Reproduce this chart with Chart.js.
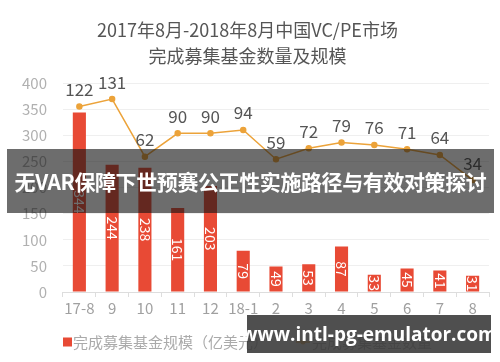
<!DOCTYPE html>
<html>
<head>
<meta charset="utf-8">
<script src="https://cdn.jsdelivr.net/npm/chart.js@4/dist/chart.umd.min.js"></script>
<style>
  body { margin: 0; background: #fff; }
  #wrap { position: relative; width: 500px; height: 362px; }
  #banner {
    position: absolute; left: 7px; top: 149px; width: 487px; height: 64px;
    background: rgba(20, 20, 20, 0.62); color: #fff;
    font: bold 21px "Noto Sans CJK SC", sans-serif; letter-spacing: -0.4px;
    display: flex; align-items: center; justify-content: center; white-space: nowrap;
  }
  #mark {
    position: absolute; left: 247px; top: 315px; width: 244px; height: 38px;
    background: rgba(55, 55, 55, 0.88); color: #fff;
    font: bold 19px "Open Sans", "DejaVu Sans", sans-serif;
    display: flex; align-items: center; justify-content: center; white-space: nowrap;
  }
</style>
</head>
<body>
<div id="wrap">
  <canvas id="chart" width="500" height="362"></canvas>
  <div id="banner">无VAR保障下世预赛公正性实施路径与有效对策探讨</div>
  <div id="mark">www.intl-pg-emulator.com</div>
</div>
<script>
// categorie (mesi)
const months = ["17-8", "9", "10", "11", "12", "18-1", "2", "3", "4", "5", "6", "7", "8"];
// scala fondi (亿美元)
const fundSize = [344, 244, 238, 161, 203, 79, 49, 53, 87, 33, 45, 41, 31];
// numero fondi
const fundCount = [122, 131, 62, 90, 90, 94, 59, 72, 79, 76, 71, 64, 34];
const yTicks = [0, 50, 100, 150, 200, 250, 300, 350, 400];

const cjk = '"Noto Sans CJK SC", sans-serif';
const barColor = "#e84a35";
const lineColor = "#eca33a";

// etichette sopra i punti e dentro le barre
const valueLabels = {
  id: "valueLabels",
  afterDatasetsDraw(chart) {
    const ctx = chart.ctx;
    ctx.save();
    // barre: testo ruotato, bianco
    chart.getDatasetMeta(0).data.forEach((bar, i) => {
      const cy = (bar.y + bar.base) / 2;
      ctx.save();
      ctx.translate(bar.x, cy);
      ctx.rotate(Math.PI / 2);
      ctx.font = "14px " + cjk;
      ctx.fillStyle = "#fff";
      ctx.textAlign = "center";
      ctx.textBaseline = "middle";
      ctx.fillText(fundSize[i], 0, 0);
      ctx.restore();
    });
    // linea: numeri sopra
    ctx.font = "17px " + cjk;
    ctx.fillStyle = "#555";
    ctx.textAlign = "center";
    ctx.textBaseline = "middle";
    chart.getDatasetMeta(1).data.forEach((pt, i) => {
      ctx.fillText(fundCount[i], pt.x, pt.y - 17);
    });
    ctx.restore();
  },
};

// legenda disegnata a mano sotto il grafico
const bottomLegend = {
  id: "bottomLegend",
  afterDraw(chart) {
    const ctx = chart.ctx;
    const ds = chart.data.datasets;
    const y = 342;
    ctx.save();
    ctx.font = "15px " + cjk;
    ctx.textBaseline = "middle";
    ctx.textAlign = "left";
    let x = 63;
    ctx.fillStyle = ds[0].backgroundColor;
    ctx.fillRect(x, y - 4.5, 9, 9);
    x += 10;
    ctx.fillStyle = "#aaaaaa";
    ctx.fillText(ds[0].label, x, y);
    x += ctx.measureText(ds[0].label).width + 28;
    ctx.strokeStyle = ds[1].borderColor;
    ctx.lineWidth = 1.5;
    ctx.beginPath();
    ctx.moveTo(x, y);
    ctx.lineTo(x + 14, y);
    ctx.stroke();
    ctx.fillStyle = ds[1].borderColor;
    ctx.beginPath();
    ctx.arc(x + 7, y, 2.5, 0, Math.PI * 2);
    ctx.fill();
    x += 16;
    ctx.fillStyle = "#aaaaaa";
    ctx.fillText(ds[1].label, x, y);
    ctx.restore();
  },
};

const config = {
  type: "bar",
  data: {
    labels: months,
    datasets: [
      {
        label: "完成募集基金规模（亿美元）",
        data: fundSize,
        backgroundColor: barColor,
        barPercentage: 0.4,
        categoryPercentage: 1,
        yAxisID: "y",
        order: 2,
      },
      {
        type: "line",
        label: "完成募集基金数量",
        data: fundCount,
        borderColor: lineColor,
        backgroundColor: lineColor,
        borderWidth: 1.5,
        pointRadius: 2.5,
        pointHoverRadius: 2.5,
        yAxisID: "y2",
        order: 1,
      },
    ],
  },
  options: {
    responsive: false,
    animation: false,
    layout: { padding: { left: 6, right: 11, top: 0, bottom: 43 } },
    scales: {
      x: {
        offset: true,
        grid: { drawOnChartArea: false, drawTicks: true, tickLength: 5, color: "#dddddd", offset: true },
        border: { color: "#dddddd" },
        ticks: { color: "#a0a0a0", font: { family: cjk, size: 15 }, padding: 2, maxRotation: 0, autoSkip: false },
      },
      y: {
        min: 0,
        max: 400,
        afterBuildTicks: (axis) => { axis.ticks = yTicks.map((v) => ({ value: v })); },
        grid: { color: "#efefef", drawTicks: false },
        border: { display: false },
        ticks: { color: "#b0b0b0", font: { family: cjk, size: 15 }, padding: 16 },
      },
      y2: { display: false, min: -100, max: 150 },
    },
    plugins: {
      title: {
        display: true,
        text: ["2017年8月-2018年8月中国VC/PE市场", "完成募集基金数量及规模"],
        color: "#555",
        font: { family: cjk, size: 18, weight: "normal", lineHeight: 1.45 },
        padding: { top: 17, bottom: 14 },
      },
      legend: { display: false },
      tooltip: { enabled: false },
    },
  },
  plugins: [valueLabels, bottomLegend],
};

const chart = new Chart(document.getElementById("chart"), config);
</script>
</body>
</html>
